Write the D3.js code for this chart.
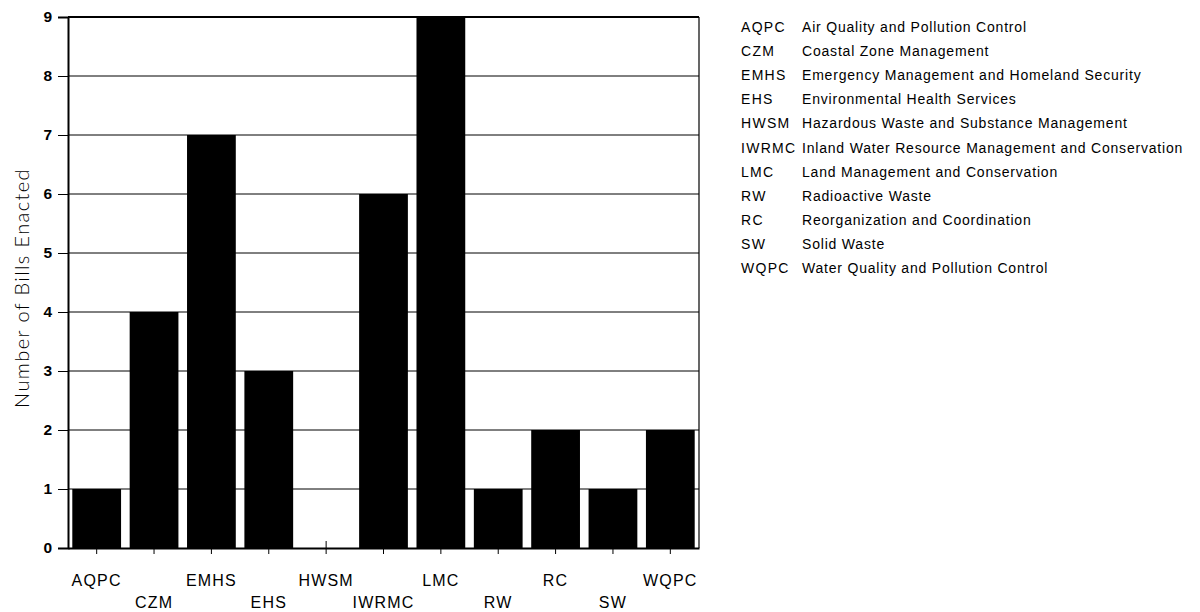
<!DOCTYPE html>
<html><head><meta charset="utf-8">
<script src="https://cdn.jsdelivr.net/npm/d3@7"></script>
<style>body{margin:0;background:#fff}svg{display:block}</style>
</head><body>
<script>
const categories = ["AQPC","CZM","EMHS","EHS","HWSM","IWRMC","LMC","RW","RC","SW","WQPC"];
const values = [1,4,7,3,0,6,9,1,2,1,2];
const yTicks = [0,1,2,3,4,5,6,7,8,9];
const legendAbbr = ["AQPC","CZM","EMHS","EHS","HWSM","IWRMC","LMC","RW","RC","SW","WQPC"];
const legendNames = ["Air Quality and Pollution Control","Coastal Zone Management","Emergency Management and Homeland Security","Environmental Health Services","Hazardous Waste and Substance Management","Inland Water Resource Management and Conservation","Land Management and Conservation","Radioactive Waste","Reorganization and Coordination","Solid Waste","Water Quality and Pollution Control"];
const yTitle = "Number of Bills Enacted";

const W=1200,H=612;
const pL=68,pR=699,pT=17,pB=548;
const svg=d3.select("body").append("svg").attr("width",W).attr("height",H);
const x=d3.scaleBand().domain(categories).range([pL,pR]).paddingInner(0.15).paddingOuter(0.075);
const y=d3.scaleLinear().domain([0,9]).range([pB,pT]);

// gridlines
svg.append("g").selectAll("line").data(yTicks.filter(d=>d>0)).join("line")
  .attr("x1",pL).attr("x2",pR).attr("y1",d=>y(d)).attr("y2",d=>y(d))
  .attr("stroke","#000").attr("stroke-width",d=>d===9?2:1);
// right border
svg.append("line").attr("x1",pR).attr("x2",pR).attr("y1",pT).attr("y2",pB).attr("stroke","#000").attr("stroke-width",1.2);

// y axis
const ya=svg.append("g").attr("transform",`translate(${pL},0)`).call(d3.axisLeft(y).tickValues(yTicks).tickSize(10).tickPadding(6).tickFormat(d3.format("d")));
ya.select(".domain").attr("stroke-width",2);
ya.selectAll(".tick line").attr("stroke-width",1);
ya.selectAll("text").attr("font-family","Liberation Sans, Arial").attr("font-size",15.5).attr("font-weight","bold").attr("fill","#000");

// x axis
const xa=svg.append("g").attr("transform",`translate(0,${pB})`).call(d3.axisBottom(x).tickSize(6).tickSizeOuter(0).tickFormat(""));
xa.select(".domain").attr("stroke-width",2);

// bars
svg.append("g").selectAll("rect").data(categories).join("rect")
  .attr("x",d=>x(d)).attr("width",x.bandwidth())
  .attr("y",(d,i)=>y(values[i])).attr("height",(d,i)=>y(0)-y(values[i])+1)
  .attr("fill","#000");
// zero-value marker
svg.append("g").selectAll("line").data(categories.filter((d,i)=>values[i]===0)).join("line")
  .attr("x1",d=>x(d)+x.bandwidth()/2).attr("x2",d=>x(d)+x.bandwidth()/2)
  .attr("y1",y(0)-7).attr("y2",y(0)).attr("stroke","#000").attr("stroke-width",1);

// x labels staggered
svg.append("g").selectAll("text").data(categories).join("text")
  .attr("x",d=>x(d)+x.bandwidth()/2)
  .attr("y",(d,i)=>i%2===0?586:608)
  .attr("text-anchor","middle").attr("font-family","Liberation Sans, Arial").attr("font-size",16)
  .attr("letter-spacing",1.2).attr("fill","#000").text(d=>d);

// y title
svg.append("text").attr("transform","translate(29,288) rotate(-90)").attr("text-anchor","middle")
  .attr("font-family","Lato, DejaVu Sans").attr("font-weight",300).attr("font-size",20).attr("letter-spacing",1.4)
  .attr("fill","#000").text(yTitle);

// legend
const lg=svg.append("g").attr("font-family","Liberation Sans, Arial").attr("font-size",14).attr("fill","#000");
lg.selectAll("text.a").data(legendAbbr).join("text").attr("class","a")
  .attr("x",741).attr("y",(d,i)=>32+i*24.1).attr("letter-spacing",1.3).text(d=>d);
lg.selectAll("text.n").data(legendNames).join("text").attr("class","n")
  .attr("x",802).attr("y",(d,i)=>32+i*24.1).attr("letter-spacing",0.8).text(d=>d);
</script>
</body></html>
